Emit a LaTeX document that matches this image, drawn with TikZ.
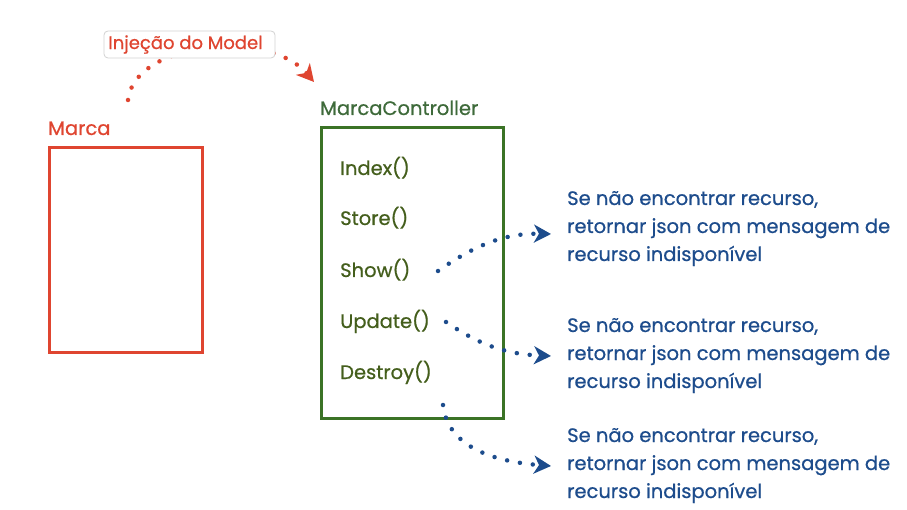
\documentclass[tikz,border=0pt]{standalone}
\usepackage{fontspec}
\setmainfont{Poppins}[BoldFont={Poppins},BoldFeatures={FakeBold=0.7}]
\usetikzlibrary{arrows.meta}
\definecolor{cred}{HTML}{DF4530}
\definecolor{cgreen}{HTML}{3B7326}
\definecolor{cmeth}{HTML}{445E1C}
\definecolor{clbl}{HTML}{3E6A3A}
\definecolor{cblue}{HTML}{1D4C8C}
\tikzset{
  lbl/.style={anchor=base west, inner sep=0pt, font=\fontsize{19.5}{22}\selectfont\bfseries},
  meth/.style={lbl, text=cmeth},
  info/.style={anchor=base west, inner sep=0pt, align=left, text=cblue, font=\fontsize{19.5}{28}\selectfont\bfseries},
  dots/.style={line width=4.5pt, dash pattern=on 0pt off 13pt, line cap=round},
  tipx/.style={-{Stealth[length=17pt,width=18pt,inset=5pt]}},
  bdots/.style={dots, draw=cblue, tipx},
  rdots/.style={dots, draw=cred, tipx},
}
\begin{document}
\begin{tikzpicture}[x=1pt,y=-1pt]
\useasboundingbox (0,0) rectangle (907,510);
% Marca
\node[draw=cred, line width=2.6pt, minimum width=153pt, minimum height=205pt, anchor=north west, inner sep=0pt] (marca) at (48,146) {};
\node[lbl, text=cred] (marcalbl) at (48,135) {Marca};
% Controller
\node[draw=cgreen, line width=2.6pt, minimum width=182pt, minimum height=291pt, anchor=north west, inner sep=0pt] (ctrl) at (320,126) {};
\node[lbl, text=clbl] (ctrllbl) at (320,115) {MarcaController};
\node[meth] (index) at (340,175) {Index()};
\node[meth] (store) at (340,225) {Store()};
\node[meth] (show) at (340,277) {Show()};
\node[meth] (update) at (340,328) {Update()};
\node[meth] (destroy) at (340,379) {Destroy()};
% info texts (base = last line)
\node[info] (info1) at (567,261) {Se não encontrar recurso,\\retornar json com mensagem de\\recurso indisponível};
\node[info] (info2) at (567,388) {Se não encontrar recurso,\\retornar json com mensagem de\\recurso indisponível};
\node[info] (info3) at (567,498) {Se não encontrar recurso,\\retornar json com mensagem de\\recurso indisponível};
% red injection arrow
\coordinate (rs) at (128,100);
\coordinate (re) at (314,82);
\draw[rdots] (rs) .. controls (134,42) and (268,28) .. (re);
\node[draw=gray!35, fill=white, rounded corners=4pt, line width=0.8pt, minimum width=171pt, minimum height=27pt, inner sep=0pt, text=cred, font=\fontsize{18}{20}\selectfont\bfseries] (inj) at (189.5,44.5) {\hspace*{-8pt}Injeção do Model};
% blue arrows
\coordinate (s1) at (438,271);
\coordinate (e1) at (551,234);
\coordinate (s2) at (446,322);
\coordinate (e2) at (551,356);
\coordinate (s3) at (443,405);
\coordinate (e3) at (551,466);
\draw[bdots] (s1) .. controls (475,245) and (505,233) .. (e1);
\draw[bdots] (s2) .. controls (480,345) and (505,354) .. (e2);
\draw[bdots] (s3) .. controls (448,450) and (500,462) .. (e3);
\end{tikzpicture}
\end{document}
